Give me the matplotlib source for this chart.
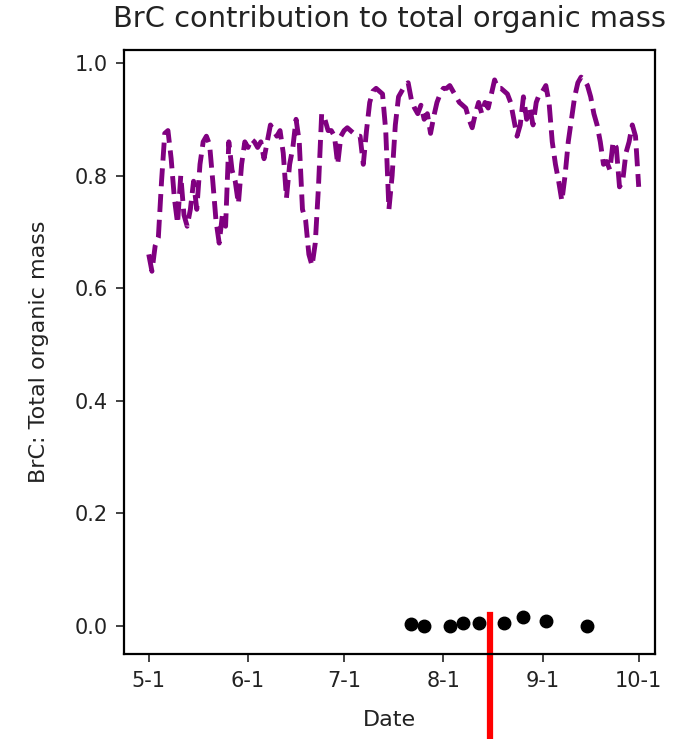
import matplotlib
matplotlib.use("Agg")
import matplotlib.pyplot as plt
import matplotlib.dates as mdates
import pandas as pd

# daily BrC fraction, 5-1 .. 10-1
brc_frac = [
    0.66, 0.63, 0.675, 0.69, 0.79, 0.875, 0.88, 0.83, 0.76, 0.715,
    0.80, 0.73, 0.71, 0.74, 0.79, 0.74, 0.82, 0.86, 0.87, 0.855,
    0.79, 0.72, 0.68, 0.73, 0.71, 0.86, 0.81, 0.79, 0.75, 0.82,
    0.86, 0.85, 0.865, 0.86, 0.85, 0.86, 0.83, 0.86, 0.89, 0.88,
    0.87, 0.88, 0.84, 0.76, 0.82, 0.85, 0.90, 0.86, 0.74, 0.72,
    0.66, 0.64, 0.68, 0.78, 0.91, 0.90, 0.88, 0.88, 0.87, 0.82,
    0.87, 0.88, 0.885, 0.88, 0.875, 0.87, 0.87, 0.82, 0.88, 0.93,
    0.95, 0.955, 0.95, 0.945, 0.88, 0.74, 0.80, 0.89, 0.94, 0.95,
    0.96, 0.965, 0.935, 0.92, 0.91, 0.925, 0.90, 0.91, 0.875, 0.905,
    0.93, 0.945, 0.955, 0.955, 0.96, 0.95, 0.94, 0.93, 0.925, 0.92,
    0.90, 0.885, 0.91, 0.93, 0.91, 0.93, 0.92, 0.945, 0.97, 0.955,
    0.955, 0.95, 0.945, 0.93, 0.90, 0.87, 0.89, 0.94, 0.90, 0.92,
    0.89, 0.93, 0.945, 0.95, 0.96, 0.93, 0.86, 0.82, 0.79, 0.755,
    0.80, 0.86, 0.90, 0.94, 0.965, 0.975, 0.97, 0.96, 0.94, 0.91,
    0.89, 0.86, 0.82, 0.825, 0.81, 0.86, 0.85, 0.78, 0.79, 0.84,
    0.86, 0.89, 0.87, 0.78,
]
dates = pd.date_range("2019-05-01", periods=len(brc_frac), freq="D")

# measured points
obs_dates = pd.to_datetime(["2019-07-22", "2019-07-26", "2019-08-03", "2019-08-07",
                            "2019-08-12", "2019-08-20", "2019-08-26", "2019-09-02",
                            "2019-09-15"])
obs_frac = [0.0035, -0.0005, 0.0, 0.005, 0.005, 0.005, 0.0165, 0.008, 0.0005]

marker_date = pd.Timestamp("2019-08-15 12:00")

fig = plt.figure(figsize=(6.98, 7.39), dpi=100)
ax = fig.add_axes([0.178, 0.115, 0.76, 0.818])

ax.plot(dates, brc_frac, "--", color="purple", lw=3.5)
ax.plot(obs_dates, obs_frac, "o", color="black", ms=9)
ax.plot([marker_date, marker_date], [0.02, -0.3], color="red", lw=4.5, clip_on=False)

ax.set_ylim(-0.05, 1.024)
ax.set_xlim(dates[0] - pd.Timedelta(days=7.65), dates[-1] + pd.Timedelta(days=5))
ax.set_yticks([0.0, 0.2, 0.4, 0.6, 0.8, 1.0])
ax.set_xticks(pd.to_datetime(["2019-05-01", "2019-06-01", "2019-07-01",
                              "2019-08-01", "2019-09-01", "2019-10-01"]))
ax.xaxis.set_major_formatter(mdates.DateFormatter("%-m-%-d"))

ax.tick_params(labelsize=15, length=6, width=1.2, colors="#222222", pad=6)
for s in ax.spines.values():
    s.set_linewidth(1.6)
ax.set_xlabel("Date", fontsize=16, labelpad=14, color="#222222")
ax.set_ylabel("BrC: Total organic mass", fontsize=16, labelpad=18, color="#222222")
ax.set_title("BrC contribution to total organic mass", fontsize=20.8, pad=16, color="#222222")

fig.savefig("out.png", dpi=100)
